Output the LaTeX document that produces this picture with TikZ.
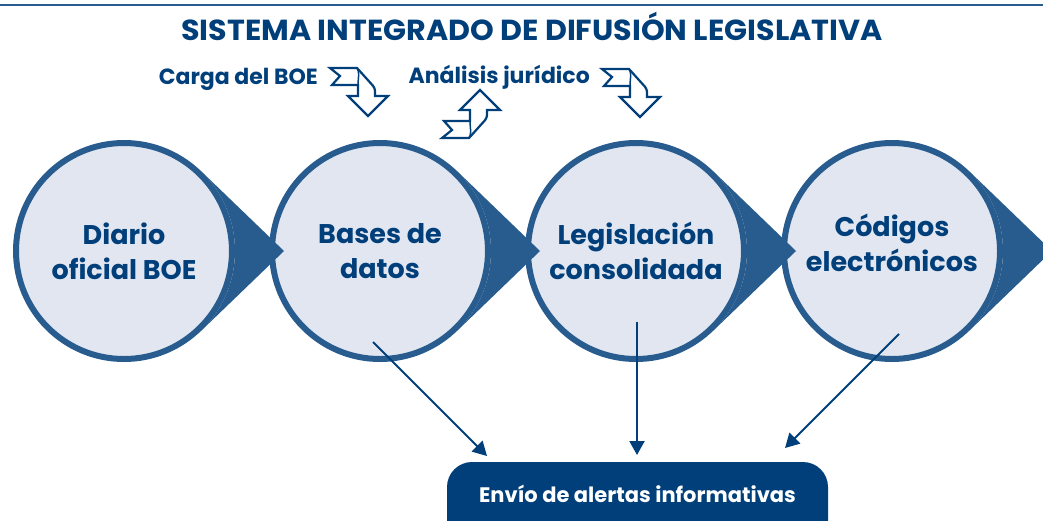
\documentclass[tikz,border=0pt]{standalone}
\usepackage{fontspec}
\setmainfont{Poppins}
\newfontfamily\titlefont[FakeStretch=1.04]{Poppins}
\usetikzlibrary{arrows.meta,calc}

\definecolor{boedark}{RGB}{0,63,122}
\definecolor{boering}{RGB}{40,92,142}
\definecolor{boefill}{RGB}{225,230,241}

\tikzset{
  stage/.style={circle, draw=boering, line width=6pt, fill=boefill,
    minimum size=216pt, inner sep=0pt},
  stagetext/.style={align=center, text=boedark,
    font=\bfseries\fontsize{27}{35}\selectfont},
  steplabel/.style={text=boedark, anchor=base east, inner sep=0pt,
    font=\bfseries\fontsize{22}{24}\selectfont},
  alertbox/.style={rectangle, rounded corners=25pt, fill=boedark, text=white,
    inner sep=0pt, minimum width=381pt, text height=40pt, text depth=58pt,
    font=\bfseries\fontsize{21}{24}\selectfont},
  feed/.style={draw=boedark, line width=2pt,
    -{Triangle[length=14pt,width=15pt]}},
  bendarrow/.pic={
    \draw[boedark, line width=2.2pt, fill=white, line join=miter]
      (0pt,0pt) -- (27pt,0pt) [rounded corners=3pt] -- (45pt,-20pt)
      [sharp corners] -- (45pt,-28pt) -- (58pt,-28pt) -- (38pt,-48pt)
      -- (18pt,-28pt) -- (28pt,-28pt) -- (28pt,-17pt) -- (2pt,-17pt)
      -- (10pt,-8pt) -- cycle;
    \draw[boedark, line width=1.5pt]
      (27pt,0pt) .. controls (30pt,-4pt) and (28pt,-10pt) .. (28pt,-17pt);
  }
}

\begin{document}
\begin{tikzpicture}

\newcommand\CY{-251}
\newcommand\TIP{160}

  \useasboundingbox (0pt,0pt) rectangle (1043pt,-520pt);

  %% title
  \draw[boering, line width=2.5pt] (0pt,-5pt) -- (1043pt,-5pt);
  \node[anchor=base, text=boedark, inner sep=0pt,
  font=\titlefont\bfseries\fontsize{29}{32}\selectfont]
  (titulo) at (532pt,-40pt) {SISTEMA INTEGRADO DE DIFUSIÓN LEGISLATIVA};

  %% stages
  \node[stage] (diario) at (124pt,\CY pt) {};
  \node[stage] (bases) at (380pt,\CY pt) {};
  \node[stage] (consol) at (636pt,\CY pt) {};
  \node[stage] (codigos) at (892pt,\CY pt) {};

  %% points of the stages
  \fill[boering] (diario.46) -- ([xshift=\TIP pt]diario.center) -- (diario.-46)
  arc[start angle=-46, end angle=46, radius=111pt] -- cycle;
  \fill[boering] (bases.46) -- ([xshift=\TIP pt]bases.center) -- (bases.-46)
  arc[start angle=-46, end angle=46, radius=111pt] -- cycle;
  \fill[boering] (consol.46) -- ([xshift=\TIP pt]consol.center) -- (consol.-46)
  arc[start angle=-46, end angle=46, radius=111pt] -- cycle;
  \fill[boering] (codigos.46) -- ([xshift=\TIP pt]codigos.center) -- (codigos.-46)
  arc[start angle=-46, end angle=46, radius=111pt] -- cycle;

  \node[stagetext] (diariotxt) at (diario.center) {Diario\\oficial BOE};
  \node[stagetext] (basestxt) at (bases.center) {Bases de\\datos};
  \node[stagetext] (consoltxt) at (consol.center) {Legislación\\consolidada};
  \node[stagetext] (codigostxt) at ([yshift=8pt]codigos.center)
  {Códigos\\electrónicos};

  %% steps between stages
  \node[steplabel] (carga) at (318pt,-84pt) {Carga del BOE};
  \node[steplabel] (analisis) at (590pt,-83pt) {Análisis jurídico};
  \pic at (330pt,-68pt) {bendarrow};
  \pic[yscale=-1] at (442pt,-138pt) {bendarrow};
  \pic at (602pt,-69pt) {bendarrow};

  %% alerts
  \node[alertbox, anchor=base] (alertas) at (637.5pt,-502pt)
  {Envío de alertas informativas};

  \coordinate (outbases) at (373pt,-342pt);
  \coordinate (outconsol) at (637pt,-322pt);
  \coordinate (outcodigos) at (899pt,-334pt);
  \coordinate (inbases) at (487pt,-456pt);
  \coordinate (inconsol) at (637pt,-455pt);
  \coordinate (incodigos) at (785pt,-448pt);

  \draw[feed] (outbases) -- (inbases);
  \draw[feed] (outconsol) -- (inconsol);
  \draw[feed] (outcodigos) -- (incodigos);

\end{tikzpicture}
\end{document}
